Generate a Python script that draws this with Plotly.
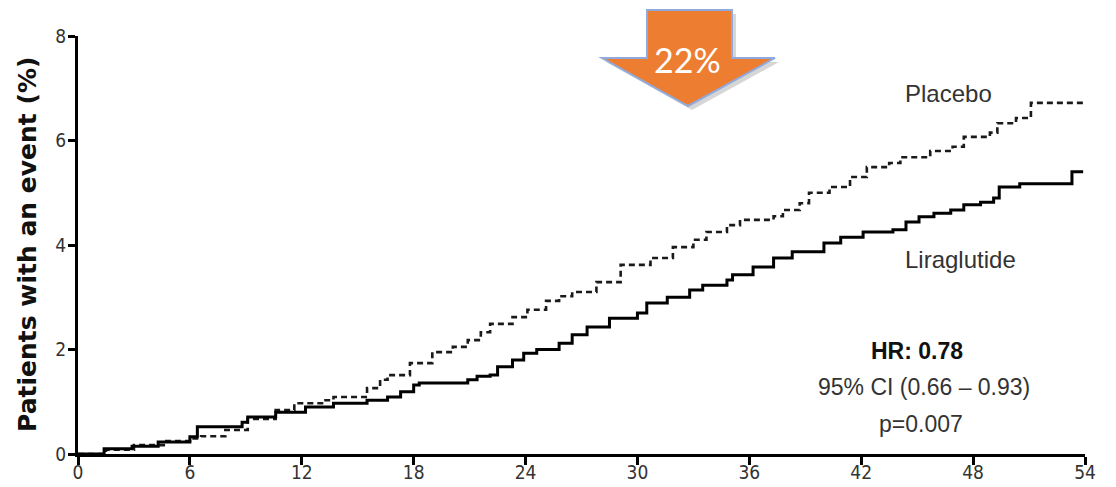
import plotly.graph_objects as go

# Cumulative incidence (%) by months since randomisation
lira_months = [0, 1.4, 2.9, 4.3, 6.0, 6.4, 8.8, 9.1, 10.6, 12.2, 13.7, 15.5, 16.6, 17.3,
               18.0, 18.3, 20.9, 21.4, 22.1, 22.5, 23.3, 23.9, 24.6, 25.8, 26.5, 27.3,
               28.5, 30.0, 30.5, 31.6, 32.8, 33.5, 34.8, 35.1, 36.2, 37.3, 38.3, 40.0,
               40.9, 42.1, 43.7, 44.4, 45.1, 45.9, 46.8, 47.5, 48.4, 49.1, 49.4, 50.5,
               53.3, 53.9]
lira_pct = [0, 0.10, 0.15, 0.23, 0.33, 0.52, 0.61, 0.71, 0.80, 0.90, 0.97, 1.03, 1.09, 1.19,
            1.32, 1.36, 1.42, 1.49, 1.51, 1.67, 1.80, 1.93, 2.00, 2.12, 2.28, 2.43,
            2.60, 2.70, 2.89, 3.00, 3.14, 3.23, 3.33, 3.43, 3.58, 3.75, 3.87, 4.04,
            4.15, 4.25, 4.29, 4.44, 4.54, 4.61, 4.67, 4.77, 4.82, 4.90, 5.11, 5.17,
            5.40, 5.40]

plac_months = [0, 1.5, 3.0, 4.6, 6.0, 6.6, 7.9, 9.1, 10.6, 11.6, 13.2, 13.7, 15.5, 16.2,
               16.6, 17.8, 19.0, 20.1, 20.9, 21.6, 22.1, 23.3, 24.1, 25.1, 25.8, 26.5,
               27.8, 29.1, 30.7, 31.9, 33.0, 33.7, 34.8, 35.5, 37.3, 37.8, 38.7, 39.2,
               40.3, 41.4, 42.3, 43.5, 44.1, 45.7, 46.9, 47.5, 48.9, 49.3, 50.3, 51.1,
               53.9]
plac_pct = [0, 0.08, 0.17, 0.25, 0.30, 0.34, 0.46, 0.67, 0.84, 0.97, 1.03, 1.09, 1.26, 1.42,
            1.51, 1.74, 1.95, 2.05, 2.18, 2.33, 2.49, 2.62, 2.76, 2.93, 3.02, 3.10,
            3.29, 3.62, 3.75, 3.96, 4.10, 4.25, 4.38, 4.48, 4.55, 4.67, 4.80, 5.00,
            5.11, 5.30, 5.49, 5.57, 5.68, 5.80, 5.88, 6.07, 6.15, 6.33, 6.43, 6.72,
            6.72]

x_ticks = [0, 6, 12, 18, 24, 30, 36, 42, 48, 54]
y_ticks = [0, 2, 4, 6, 8]

W, H = 1116, 487
ML, MR, MT, MB = 78, 31, 36, 33

def px(x):
    return (x - ML) / (W - ML - MR)

def py(y):
    return (H - MB - y) / (H - MT - MB)

fig = go.Figure()
fig.add_trace(go.Scatter(x=plac_months, y=plac_pct, mode="lines", line_shape="hv",
                         line=dict(color="#1a1a1a", width=2.6, dash="6px,4px"),
                         name="Placebo", showlegend=False))
fig.add_trace(go.Scatter(x=lira_months, y=lira_pct, mode="lines", line_shape="hv",
                         line=dict(color="#000000", width=3),
                         name="Liraglutide", showlegend=False))

tick_font = dict(family="Liberation Sans Narrow, DejaVu Sans Condensed, Arial Narrow, sans-serif",
                 size=19, color="#333333")

fig.update_xaxes(range=[0, 54], tickvals=x_ticks, ticktext=[str(v) for v in x_ticks],
                 showgrid=False, zeroline=False, showline=True, linecolor="black",
                 linewidth=3, ticks="outside", ticklen=8, tickwidth=2.5, tickcolor="black",
                 tickfont=tick_font, automargin=False, ticklabelstandoff=-9)
fig.update_yaxes(range=[0, 8], tickvals=y_ticks, ticktext=[str(v) for v in y_ticks],
                 showgrid=False, zeroline=False, showline=True, linecolor="black",
                 linewidth=3, ticks="outside", ticklen=7, tickwidth=2.5, tickcolor="black",
                 tickfont=tick_font, automargin=False, ticklabelstandoff=-2)

# Down arrow badge
def path(points):
    return "M " + " L ".join(f"{px(a):.5f},{py(b):.5f}" for a, b in points) + " Z"

arrow = [(647, 10), (732, 10), (732, 58), (775, 58), (688, 106), (602, 58), (647, 58)]
shadow = [(a + 4, b + 4) for a, b in arrow]
fig.add_shape(type="path", xref="paper", yref="paper", path=path(shadow),
              fillcolor="rgba(0,0,0,0.16)", line=dict(width=0), layer="above")
fig.add_shape(type="path", xref="paper", yref="paper", path=path(arrow),
              fillcolor="#ED7D31", line=dict(color="#8FAADC", width=2), layer="above")

annotations = [
    dict(x=px(687), y=py(60), text="22%", font=dict(family="Lato, Open Sans, sans-serif", size=34, color="white"),
         xanchor="center", yanchor="middle"),
    dict(x=px(27), y=py(245), text="Patients with an event (%)", textangle=-90,
         font=dict(family="DejaVu Sans, sans-serif", size=25, color="#111111", weight="bold"),
         xanchor="center", yanchor="middle"),
    dict(x=px(903), y=py(93), text="Placebo",
         font=dict(family="Liberation Sans, Arial, sans-serif", size=24, color="#333333"),
         xanchor="left", yanchor="middle"),
    dict(x=px(903), y=py(259), text="Liraglutide",
         font=dict(family="Liberation Sans, Arial, sans-serif", size=24, color="#333333"),
         xanchor="left", yanchor="middle"),
    dict(x=px(917), y=py(351), text="<b>HR: 0.78</b>",
         font=dict(family="Liberation Sans, Arial, sans-serif", size=23, color="#111111"),
         xanchor="center", yanchor="middle"),
    dict(x=px(924), y=py(387), text="95% CI (0.66 \u2013 0.93)",
         font=dict(family="Liberation Sans, Arial, sans-serif", size=23, color="#333333"),
         xanchor="center", yanchor="middle"),
    dict(x=px(921), y=py(424), text="p=0.007",
         font=dict(family="Liberation Sans, Arial, sans-serif", size=23, color="#333333"),
         xanchor="center", yanchor="middle"),
]
for a in annotations:
    a.update(xref="paper", yref="paper", showarrow=False)

fig.update_layout(width=W, height=H, margin=dict(l=ML, r=MR, t=MT, b=MB),
                  paper_bgcolor="white", plot_bgcolor="white",
                  annotations=annotations)

fig.write_html("out.html", config={"displayModeBar": False})
